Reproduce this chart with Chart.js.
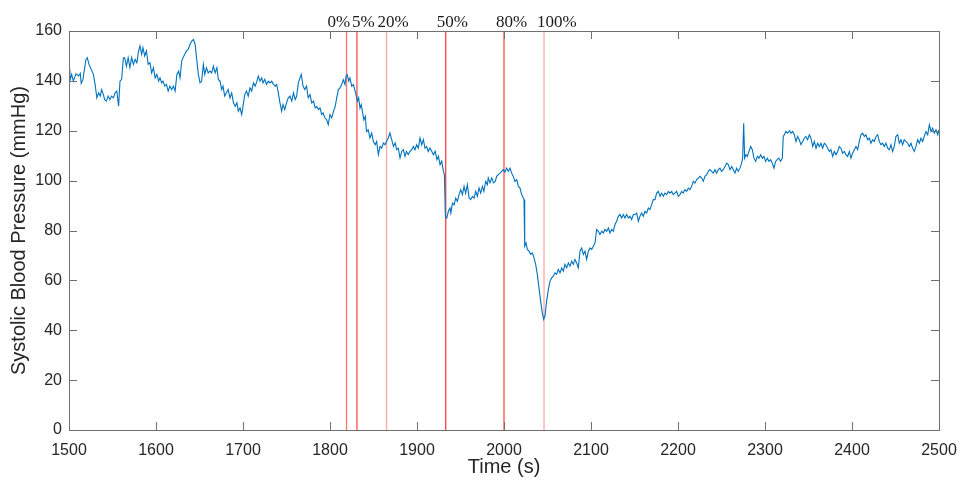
<!DOCTYPE html>
<html>
<head>
<meta charset="utf-8">
<title>Systolic Blood Pressure</title>
<script src="https://cdn.jsdelivr.net/npm/chart.js@4.4.1/dist/chart.umd.min.js"></script>
<style>
  html, body { margin: 0; padding: 0; background: #ffffff; }
  #wrap { width: 962px; height: 483px; }
</style>
</head>
<body>
<div id="wrap"><canvas id="bp" width="962" height="483"></canvas></div>
<script>
// Recorded systolic pressure, time in seconds
const timeSec = [
  1500,1501,1503,1505,1508,1511,1513,1514,1516,1519.5,1521,1523,1526,1528,1530,1532,1534,1536,1537.5,1539.5,
  1541,1543,1545,1547,1549,1551,1553,1555,1557,1558.6,1560.5,1562.5,1564,1566,1568,1570,1572,1574,1576,1578,
  1580,1581.6,1583.5,1585,1587,1589,1591,1593,1595,1597,1599,1601,1603,1604.6,1606.5,1608,1610,1612,1614,1616,
  1618,1620,1622,1624,1626,1627.6,1629.5,1631,1633,1635,1637,1639,1641,1643,1645,1647,1648.7,1650.6,1652.5,1654.4,
  1656,1658,1660,1662,1664,1666,1668,1670,1671.6,1673.6,1675.5,1677,1679,1681,1683,1685,1687,1689,1691,1693,
  1694.6,1696.6,1698.5,1700,1702,1704,1706,1708,1710,1712,1714,1716,1717.6,1719.5,1721.5,1723,1725,1727,1729,1731,
  1733,1735,1737,1738.7,1740.6,1742.5,1744.4,1746,1748,1750,1752,1754,1756,1758,1760,1761.7,1763.6,1765.5,1767,1769,
  1771,1773,1775,1777,1779,1781,1783,1784.7,1786.6,1788.5,1790.4,1792,1794,1796,1798,1800,1802,1804,1806,1807.7,
  1809.6,1811.5,1813.4,1815.3,1817.2,1818.4,1819.9,1821.5,1822.9,1824.9,1826.9,1828.9,1829.9,1831.4,1832.9,1834.5,1835.9,1837.6,1838.9,1840.6,
  1841.9,1843.9,1845.9,1847.9,1849.9,1851.9,1853.6,1855.6,1857.5,1859.4,1861.3,1863.2,1864.9,1866.9,1868.9,1870.9,1872.9,1874.9,1876.6,1878.5,
  1880.5,1882.4,1884.3,1886.2,1887.9,1889.9,1891.9,1893.9,1895.9,1897.7,1899.6,1901.5,1903.5,1905.4,1907.3,1909.2,1911.1,1912.9,1914.9,1916.9,
  1918.9,1920.9,1922.9,1924.6,1926.5,1928.4,1930.3,1931.5,1932.6,1934.2,1936.1,1937.9,1938.9,1940.7,1942.6,1944.5,1946.4,1948.3,1950.3,1952.2,
  1954.1,1955.9,1957.9,1959.9,1961.7,1963.7,1965.6,1967.5,1969.4,1971.3,1973.2,1975.2,1976.9,1978.9,1980.9,1981.9,1983.9,1985.9,1987.9,1989.9,
  1991.6,1993.5,1995.4,1997.3,1999.2,2001.1,2003,2005,2006.9,2008.8,2010.7,2012.6,2014.6,2016.5,2018.4,2020.3,2022.2,2023,2023.8,2025.3,
  2026.8,2028.7,2030.7,2032.6,2034.5,2036.4,2038.3,2040.2,2042.1,2044,2045.6,2047.1,2049,2051,2052.9,2054.8,2056.7,2058.6,2060.5,2062.4,
  2064.4,2066.3,2068.2,2070,2072,2074,2075.9,2077.8,2079.7,2081.6,2083.5,2085.4,2087.4,2089.3,2091.2,2093.1,2095,2097,2098.9,2100.8,
  2102.7,2104.6,2106.5,2108.4,2110.3,2112.3,2114.2,2116,2118,2120,2121.8,2123.8,2125.7,2127.6,2129.5,2131.4,2133.3,2135.3,2137.2,2139,
  2141,2143,2144.8,2146.7,2148.7,2150.6,2152.5,2154.4,2156.3,2158.2,2160.1,2162,2164,2165.9,2167.8,2169.7,2171.6,2173.5,2175.5,2177.4,
  2179.3,2181.2,2183.1,2185,2187,2188.9,2190.8,2192.7,2194.6,2196.5,2198.4,2200.4,2202.3,2204.2,2206,2208,2210,2211.9,2213.8,2215.7,
  2217.6,2219.5,2221.4,2223.4,2225.3,2227.2,2229,2231,2233,2234.8,2236.7,2238.7,2240.6,2242.5,2244.4,2246.3,2248.2,2250,2252,2254,
  2256,2257.8,2259.8,2261.7,2263.6,2265.5,2267.4,2269.3,2271.2,2273.2,2274.3,2275.5,2276.6,2278.1,2279.7,2281.6,2283.5,2285.4,2287.3,2289.3,
  2291.2,2293,2295,2297,2298.8,2300.7,2302.7,2304.6,2306.5,2308.4,2310.3,2312.2,2314,2316,2318,2319.9,2321,2322.2,2324,2326,
  2328,2329.9,2331.8,2333.7,2335.6,2337.5,2339.4,2341.4,2343.3,2345.2,2347,2349,2351,2352.8,2354.8,2356.7,2358.6,2360.5,2362.4,2364.3,
  2366.2,2368.2,2370,2372,2374,2375.8,2377.8,2379.7,2381.6,2383.5,2385.4,2387.3,2389.2,2391.2,2393,2395,2397,2398.8,2400.7,2402.7,
  2404.6,2406.5,2408.4,2410.3,2412.2,2414.2,2416,2418,2420,2421.8,2423.7,2425.6,2427.6,2429.5,2431.4,2433.3,2435.2,2437,2439,2441,
  2442.9,2444.8,2446.7,2448.6,2450.5,2452.5,2454.4,2456.3,2458.2,2460,2462,2464,2465.9,2467.8,2469.7,2471.6,2473.5,2475.5,2477.4,2479.3,
  2481.2,2483,2485,2487,2488.9,2490.8,2492.7,2494.6,2496.5,2498.5,2500
];

// Systolic blood pressure (mmHg) at each time above
const sbpMmHg = [
  144.6,140.0,142.6,140.0,142.8,142.0,143.0,139.0,140.5,148.6,149.3,146.6,144.2,142.6,138.6,133.2,135.2,133.9,136.5,134.5,
  132.5,131.9,133.9,132.5,133.9,133.2,135.2,135.9,129.8,139.9,140.6,149.3,149.3,145.9,149.3,145.3,149.3,146.6,148.6,147.3,
  152.0,154.0,150.6,153.3,150.0,152.0,146.6,147.3,143.2,145.3,141.2,142.6,139.9,141.2,139.2,139.9,137.9,138.6,135.9,137.9,
  136.5,137.9,135.9,142.6,143.9,141.2,147.9,149.3,150.6,152.0,152.6,154.6,156.0,156.6,154.6,147.9,142.6,139.2,139.9,146.6,
  142.6,145.3,143.2,143.9,143.2,145.9,143.2,145.3,140.6,139.9,136.5,137.9,133.9,135.2,136.5,133.2,135.2,131.2,129.8,131.2,
  127.8,129.2,126.5,129.8,134.5,135.9,133.9,137.2,135.9,139.2,137.9,139.9,141.9,139.9,141.2,139.2,140.6,138.6,139.9,139.2,
  139.9,138.6,137.9,138.6,135.2,131.2,127.8,130.5,128.5,131.2,133.2,133.9,131.9,135.2,132.5,133.9,139.2,141.2,142.6,137.9,
  136.5,137.9,133.2,134.5,131.2,131.9,129.2,129.8,128.5,129.2,126.5,127.2,125.2,124.5,122.5,126.5,125.2,127.8,129.8,133.2,
  136.5,137.2,138.5,140.5,138.5,141.9,142.5,139.9,141.2,137.9,138.5,135.8,134.5,131.8,133.2,129.1,130.5,127.1,124.4,125.8,
  119.7,120.4,117.1,119.1,115.7,114.4,115.7,110.4,113.7,113.0,115.1,114.4,115.7,117.1,119.1,116.4,113.7,115.1,112.4,113.0,
  109.0,111.7,112.4,109.7,111.7,110.4,111.7,112.4,113.7,112.4,114.4,113.0,117.1,114.4,116.4,113.0,113.7,111.7,113.1,111.8,
  110.4,111.8,108.4,109.8,106.4,107.8,103.8,102.4,85.7,85.0,87.7,89.0,87.0,91.0,90.3,93.0,91.7,94.4,96.4,94.4,
  97.7,95.0,98.4,93.0,92.4,93.7,93.0,95.7,93.7,97.1,95.0,97.7,95.7,99.7,98.4,101.1,99.1,101.1,99.1,99.7,
  101.7,102.4,103.0,103.7,104.4,103.4,105.0,103.7,105.0,103.0,101.7,99.7,100.4,97.7,97.0,94.4,93.0,92.4,73.7,75.0,
  72.4,71.7,70.4,71.0,69.0,66.4,62.4,57.0,51.7,47.0,44.4,45.7,51.7,56.4,59.7,61.0,61.7,63.0,62.4,64.4,
  63.0,65.0,63.7,66.4,65.0,67.0,65.7,67.7,66.4,68.4,67.0,65.0,71.7,73.0,70.4,71.7,68.4,71.7,73.0,72.4,
  73.7,75.0,80.4,79.7,78.4,79.7,79.0,80.4,79.7,81.0,79.0,80.4,79.7,82.4,83.7,85.7,86.4,85.0,86.4,85.0,
  86.4,85.0,85.7,84.4,86.4,86.4,87.0,83.7,85.7,87.0,85.7,87.7,87.0,89.0,88.4,90.4,92.4,92.4,95.0,95.7,
  93.7,95.0,93.7,95.0,94.4,95.7,95.0,95.7,94.4,95.0,95.7,93.7,94.4,95.7,95.0,96.4,95.7,97.0,96.4,97.7,
  99.7,99.0,100.4,101.0,101.7,101.0,99.7,101.7,102.4,103.7,104.4,103.7,103.0,104.4,103.0,104.4,105.0,103.7,104.4,105.7,
  107.0,106.4,104.4,105.7,104.4,103.0,105.0,103.7,105.0,107.0,109.0,123.0,109.0,110.4,109.7,111.7,113.7,112.4,109.0,107.7,
  109.7,109.0,110.4,109.0,109.7,107.7,109.0,107.7,108.4,107.0,105.0,107.7,108.4,109.0,107.7,109.0,117.7,118.4,119.7,119.0,
  120.0,119.0,119.7,118.4,115.7,117.7,116.4,114.4,115.7,117.0,117.7,116.4,118.4,117.0,113.7,115.7,113.0,115.0,113.7,115.0,
  113.0,115.0,114.4,113.0,111.7,112.4,109.7,111.7,110.4,111.7,113.7,113.0,111.0,111.7,110.4,109.7,111.7,109.0,111.0,112.4,
  113.7,112.4,115.7,118.4,119.0,117.7,118.4,116.4,117.0,115.0,116.4,115.7,117.7,118.4,115.7,114.4,115.0,113.7,115.0,113.0,
  112.4,114.4,111.7,113.7,117.7,118.4,115.0,116.4,114.4,116.4,115.7,115.0,113.7,115.0,113.0,111.7,113.7,116.4,115.0,117.0,
  115.7,117.7,119.7,118.4,122.4,119.7,121.0,119.0,120.4,118.4,120.4
];

// Occlusion stages marked on the record
const stageLabels = ['0%', '5%', '20%', '50%', '80%', '100%'];
const stageTimes = [1819, 1831, 1865, 1933, 2000, 2046];

// Axis ranges and tick steps
const xRange = [1500, 2500];
const yRange = [0, 160];
const xStep = 100;
const yStep = 20;

const points = timeSec.map((t, i) => ({ x: t, y: sbpMmHg[i] }));

const stageStyle = {
  alpha: [0.55, 0.7, 0.35, 0.75, 0.7, 0.35],
  nudge: [-19, -5, -9, -9, -8, -7]
};

const stagePlugin = {
  id: 'stageMarkers',
  beforeDatasetsDraw(chart) {
    const { ctx, chartArea, scales } = chart;
    ctx.save();
    stageTimes.forEach((t, i) => {
      const x = scales.x.getPixelForValue(t);
      ctx.strokeStyle = `rgba(255,0,0,${stageStyle.alpha[i]})`;
      ctx.lineWidth = 1.3;
      ctx.beginPath();
      ctx.moveTo(x, chartArea.top);
      ctx.lineTo(x, chartArea.bottom);
      ctx.stroke();
    });
    ctx.restore();
  },
  afterDraw(chart) {
    const { ctx, chartArea, scales } = chart;
    ctx.save();
    // frame
    ctx.strokeStyle = '#707070';
    ctx.lineWidth = 1;
    ctx.strokeRect(Math.round(chartArea.left) + 0.5, Math.round(chartArea.top) + 0.5,
      Math.round(chartArea.right - chartArea.left), Math.round(chartArea.bottom - chartArea.top));
    // inward ticks on all four sides
    const len = 8;
    ctx.beginPath();
    scales.x.ticks.forEach(tk => {
      const x = Math.round(scales.x.getPixelForValue(tk.value)) + 0.5;
      ctx.moveTo(x, chartArea.bottom); ctx.lineTo(x, chartArea.bottom - len);
      ctx.moveTo(x, chartArea.top); ctx.lineTo(x, chartArea.top + len);
    });
    scales.y.ticks.forEach(tk => {
      const y = Math.round(scales.y.getPixelForValue(tk.value)) + 0.5;
      ctx.moveTo(chartArea.left, y); ctx.lineTo(chartArea.left + len, y);
      ctx.moveTo(chartArea.right, y); ctx.lineTo(chartArea.right - len, y);
    });
    ctx.stroke();
    // stage labels above the frame
    ctx.fillStyle = '#1a1a1a';
    ctx.font = '17px "Liberation Serif", "Times New Roman", serif';
    ctx.textAlign = 'left';
    ctx.textBaseline = 'alphabetic';
    stageTimes.forEach((t, i) => {
      const x = scales.x.getPixelForValue(t);
      ctx.fillText(stageLabels[i], x + stageStyle.nudge[i], chartArea.top - 4);
    });
    ctx.restore();
  }
};

const tickFont = { family: '"Liberation Sans", Arial, sans-serif', size: 16 };
const titleFont = { family: '"Liberation Sans", Arial, sans-serif', size: 20 };

new Chart(document.getElementById('bp'), {
  type: 'line',
  data: {
    datasets: [{
      data: points,
      borderColor: 'rgb(0,114,189)',
      borderWidth: 1.1,
      pointRadius: 0,
      tension: 0,
      fill: false
    }]
  },
  options: {
    responsive: false,
    animation: false,
    events: [],
    layout: { padding: { top: 31, right: 23, bottom: 0, left: 0 } },
    plugins: { legend: { display: false }, tooltip: { enabled: false } },
    scales: {
      x: {
        type: 'linear',
        min: xRange[0], max: xRange[1],
        ticks: { stepSize: xStep, font: tickFont, color: '#262626', padding: 11, maxRotation: 0,
                 callback: v => String(v) },
        grid: { display: false, drawTicks: false },
        border: { display: false },
        title: { display: true, text: 'Time (s)', font: titleFont, color: '#262626', padding: { top: 0, bottom: 4 } },
        afterFit: s => { s.height = 53; s.paddingLeft = 0; s.paddingRight = 0; }
      },
      y: {
        min: yRange[0], max: yRange[1],
        ticks: { stepSize: yStep, font: tickFont, color: '#262626', padding: 7 },
        grid: { display: false, drawTicks: false },
        border: { display: false },
        title: { display: true, text: 'Systolic Blood Pressure (mmHg)', font: titleFont, color: '#262626', padding: { top: 7, bottom: 0 } },
        afterFit: s => { s.width = 69; }
      }
    }
  },
  plugins: [stagePlugin]
});
</script>
</body>
</html>
